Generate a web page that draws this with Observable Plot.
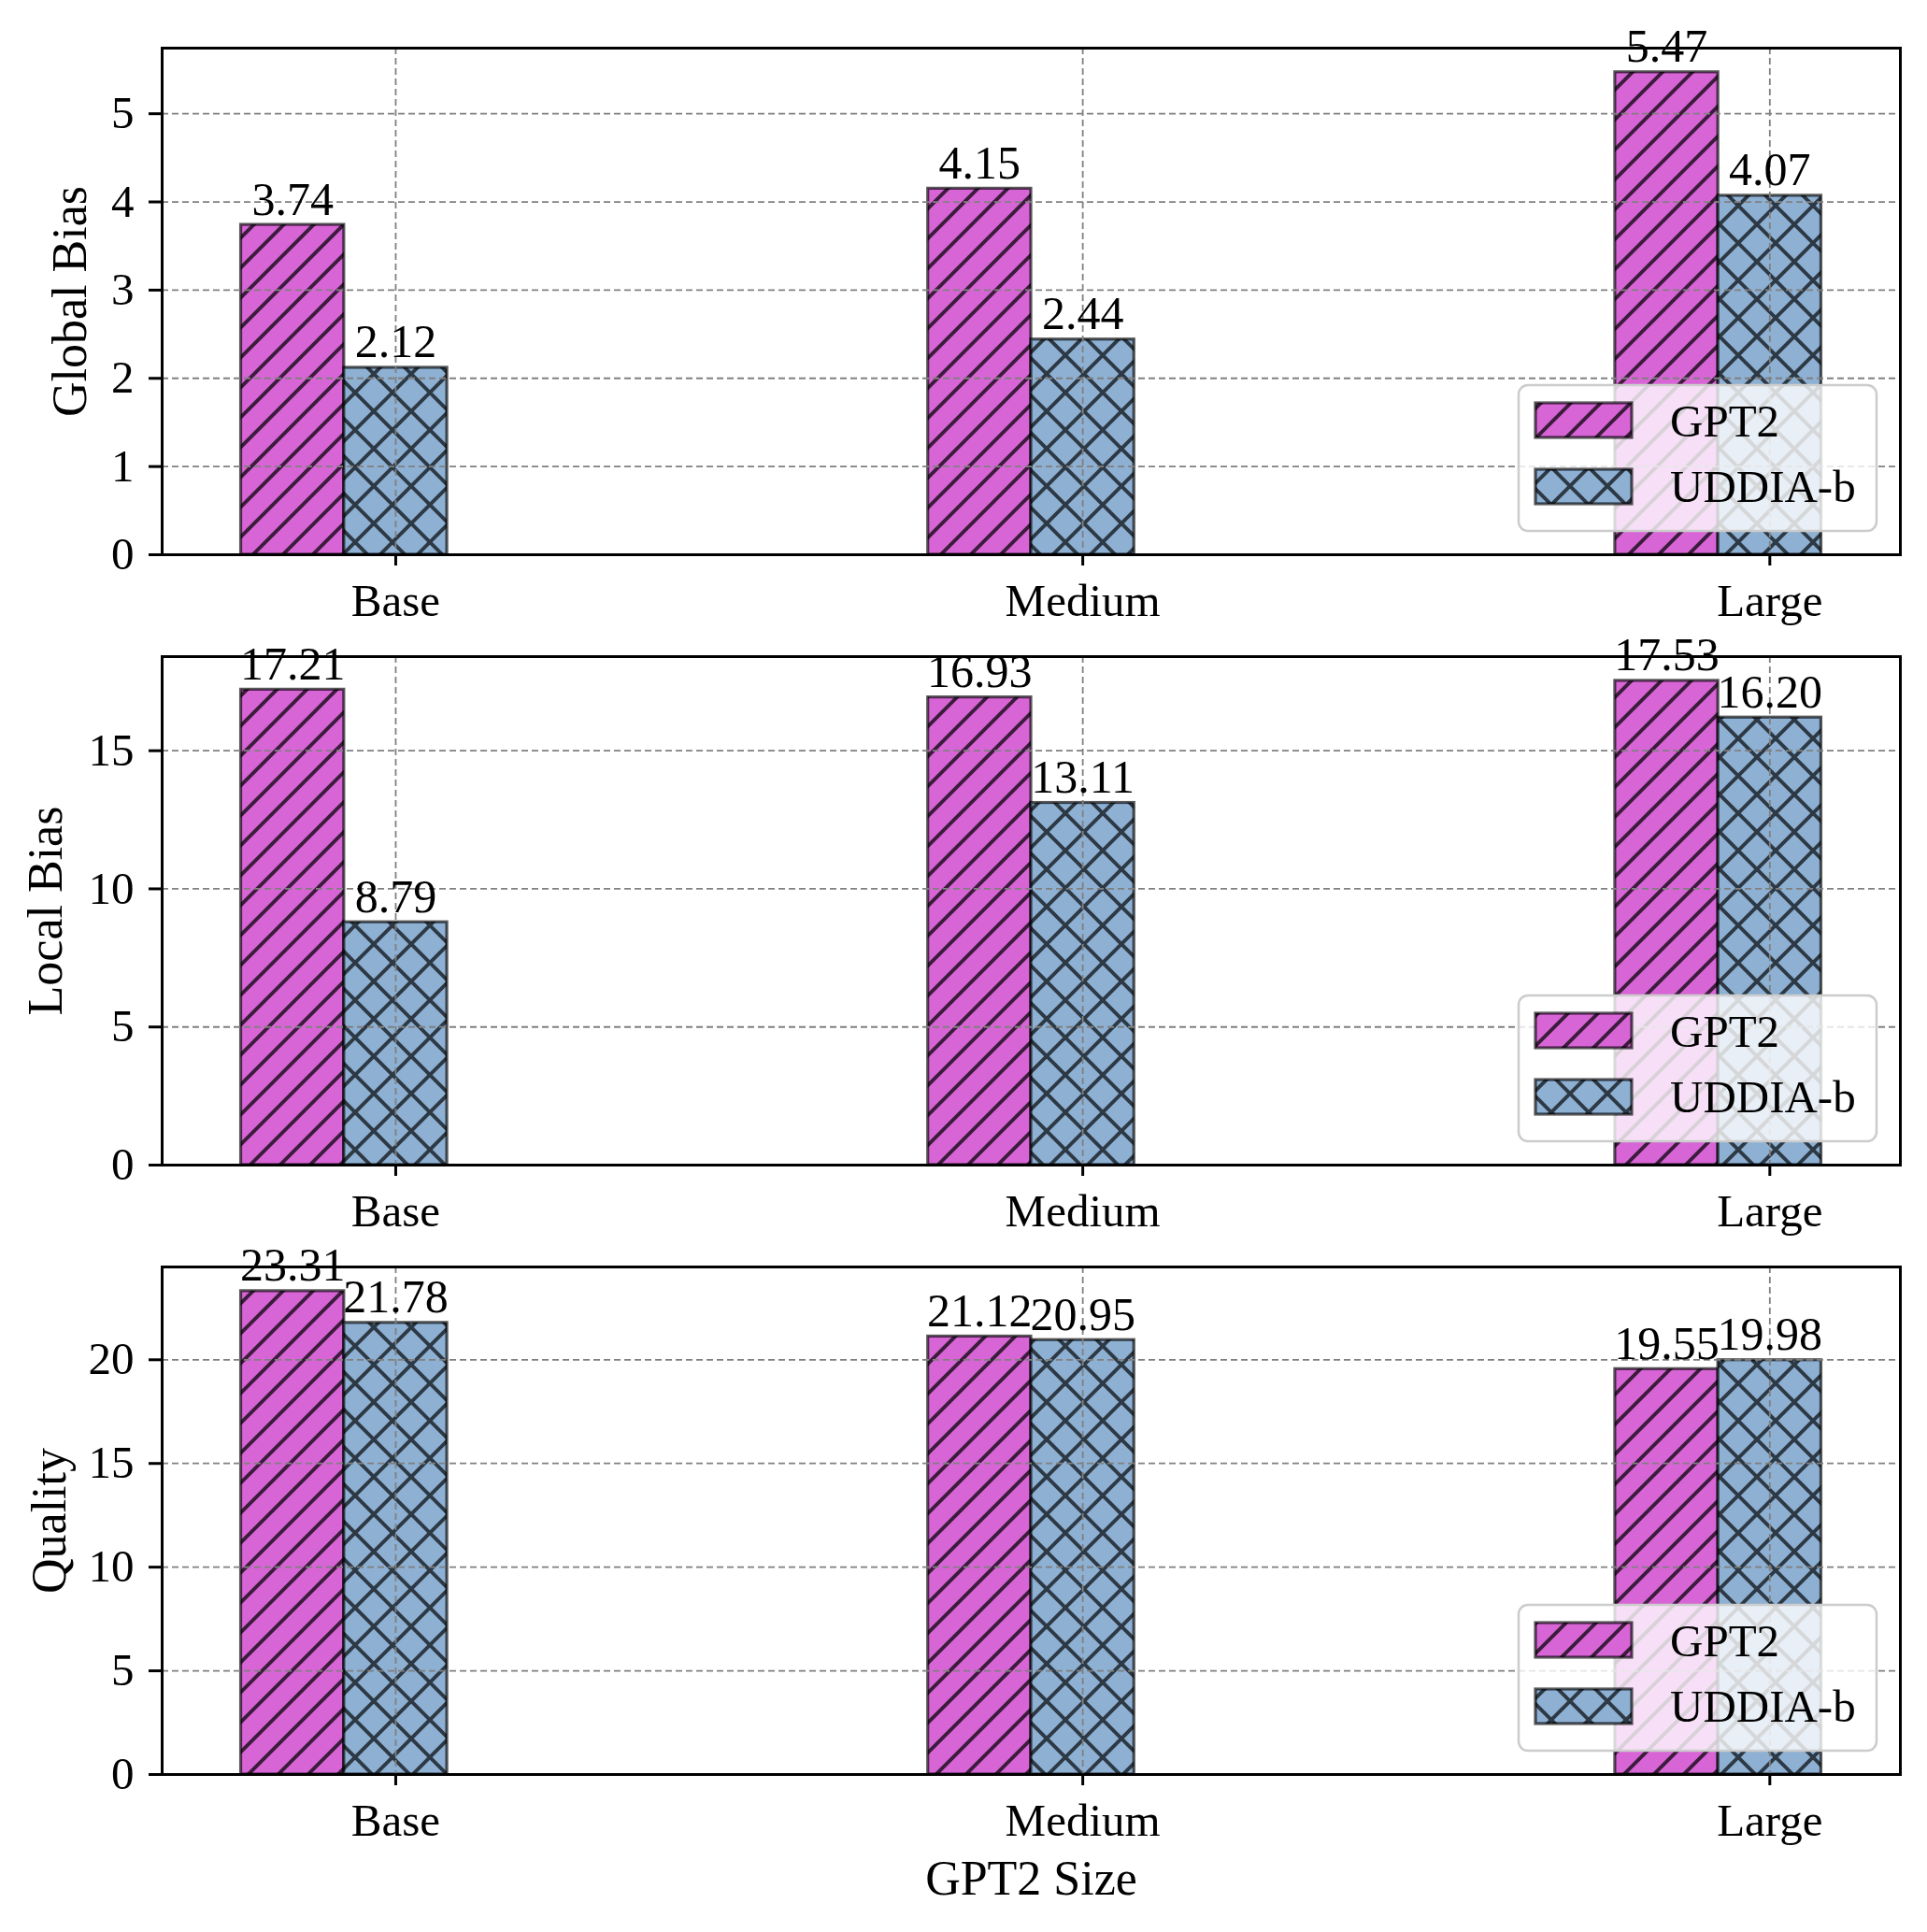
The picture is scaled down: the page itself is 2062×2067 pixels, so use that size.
<!DOCTYPE html>
<html><head><meta charset="utf-8">
<script src="https://cdn.jsdelivr.net/npm/d3@7"></script>
<script src="https://cdn.jsdelivr.net/npm/@observablehq/plot@0.6"></script>
<style>
html,body{margin:0;padding:0;background:#fff;}
#chart{width:2062px;position:relative;}
#chart svg{display:block;overflow:visible;}
</style></head><body>
<svg width="0" height="0" style="position:absolute">
  <defs>
    <pattern id="hatch-gpt2" patternUnits="userSpaceOnUse" width="32" height="32">
      <rect width="32" height="32" fill="#D865D6"></rect>
      <path d="M0,32L32,0 M-8,8L8,-8 M24,40L40,24" stroke="black" stroke-opacity="0.72" stroke-width="3.9"></path>
    </pattern>
    <pattern id="hatch-uddia" patternUnits="userSpaceOnUse" width="40" height="40">
      <rect width="40" height="40" fill="#8DB0D3"></rect>
      <path d="M0,40L40,0 M-10,10L10,-10 M30,50L50,30 M0,0L40,40 M-10,30L10,50 M30,-10L50,10" stroke="black" stroke-opacity="0.68" stroke-width="3.9"></path>
    </pattern>
  </defs>
</svg>
<div id="chart"></div>
<script>
// ---- data ----
const categories = ["Base", "Medium", "Large"];
const seriesNames = ["GPT2", "UDDIA-b"];
const globalGPT2 = [3.74, 4.15, 5.47];
const globalUDDIA = [2.12, 2.44, 4.07];
const localGPT2 = [17.21, 16.93, 17.53];
const localUDDIA = [8.79, 13.11, 16.20];
const qualityGPT2 = [23.31, 21.12, 19.55];
const qualityUDDIA = [21.78, 20.95, 19.98];
const metricLabels = ["Global Bias", "Local Bias", "Quality"];
const globalTicks = [0, 1, 2, 3, 4, 5];
const localTicks = [0, 5, 10, 15];
const qualityTicks = [0, 5, 10, 15, 20];
const xAxisLabel = "GPT2 Size";

// ---- layout ----
const W = 2062, ML = 173, MR = 29;
const barW = 0.15;
const fills = {"GPT2": "url(#hatch-gpt2)", "UDDIA-b": "url(#hatch-uddia)"};
const offsets = {"GPT2": 0, "UDDIA-b": barW};
const font = "Liberation Serif";

const panels = [
  {label: metricLabels[0], a: globalGPT2, b: globalUDDIA, ticks: globalTicks, mt: 51, mb: 57, h: 650, labelX: 75},
  {label: metricLabels[1], a: localGPT2, b: localUDDIA, ticks: localTicks, mt: 52, mb: 54, h: 650, labelX: 49},
  {label: metricLabels[2], a: qualityGPT2, b: qualityUDDIA, ticks: qualityTicks, mt: 55, mb: 169, h: 767, labelX: 53, xlabel: true}
];

const tickPos = categories.map((c, i) => i + barW);
const gridStyle = {stroke: "#808080", strokeOpacity: 1, strokeWidth: 1.8, strokeDasharray: "7,4"};

const chart = document.getElementById("chart");

panels.forEach(p => {
  const rows = categories.flatMap((c, i) => [
    {cat: c, i, series: seriesNames[0], value: p.a[i]},
    {cat: c, i, series: seriesNames[1], value: p.b[i]}
  ]);
  const ymax = d3.max(rows, d => d.value) * 1.05;
  const x1 = d => d.i + offsets[d.series] - barW / 2;
  const x2 = d => d.i + offsets[d.series] + barW / 2;
  const xc = d => d.i + offsets[d.series];
  const marks = [];
  seriesNames.forEach(s => {
    marks.push(Plot.rectY(rows.filter(d => d.series === s), {
      x1, x2, y1: 0, y2: "value", fill: fills[s],
      stroke: "black", strokeOpacity: 0.65, strokeWidth: 3.2
    }));
  });
  marks.push(Plot.gridY(p.ticks, gridStyle));
  marks.push(Plot.gridX(tickPos, gridStyle));
  marks.push(Plot.frame({stroke: "black", strokeWidth: 3}));
  marks.push(Plot.axisY(p.ticks, {tickSize: 14, tickPadding: 16, fontSize: 49, strokeWidth: 3, label: null, tickFormat: d => String(d)}));
  marks.push(Plot.axisX(tickPos, {tickSize: 12, tickPadding: 19, fontSize: 49, strokeWidth: 3, label: null,
    tickFormat: d => categories[Math.round(d - barW)]}));
  marks.push(Plot.text(rows, {x: xc, y: "value", text: d => d.value.toFixed(2), lineAnchor: "bottom", dy: -11, fontSize: 50, fill: "black"}));
  marks.push(Plot.text([p.label], {frameAnchor: "left", dx: p.labelX - ML, rotate: -90, fontSize: 52, fill: "black", lineAnchor: "middle", textAnchor: "middle"}));
  if (p.xlabel) {
    marks.push(Plot.text([xAxisLabel], {frameAnchor: "bottom", dy: 128, lineAnchor: "bottom", textAnchor: "middle", fontSize: 52, fill: "black"}));
  }
  const svg = Plot.plot({
    width: W, height: p.h,
    marginLeft: ML, marginRight: MR, marginTop: p.mt, marginBottom: p.mb,
    x: {type: "linear", domain: [-0.19, 2.34], axis: null},
    y: {domain: [0, ymax], axis: null},
    style: {fontFamily: font, overflow: "visible", background: "transparent", color: "black"},
    marks
  });
  chart.appendChild(svg);

  // legend (lower right)
  const B = p.h - p.mb, R = W - MR;
  const g = d3.select(svg).append("g").attr("font-family", font).attr("text-anchor", "start");
  g.append("rect").attr("x", R - 408).attr("y", B - 181).attr("width", 383).attr("height", 156)
    .attr("rx", 10).attr("fill", "white").attr("fill-opacity", 0.8)
    .attr("stroke", "#cccccc").attr("stroke-width", 2.5);
  seriesNames.forEach((s, k) => {
    const yTop = k === 0 ? B - 162 : B - 91;
    g.append("rect").attr("x", R - 390).attr("y", yTop).attr("width", 103).attr("height", 37)
      .attr("fill", fills[s]).attr("stroke", "black").attr("stroke-opacity", 0.65).attr("stroke-width", 3.2);
    g.append("text").attr("x", R - 246).attr("y", k === 0 ? B - 126 : B - 56)
      .attr("text-anchor", "start")
      .attr("font-size", 49).attr("fill", "black").text(s);
  });
});
</script>
</body></html>
